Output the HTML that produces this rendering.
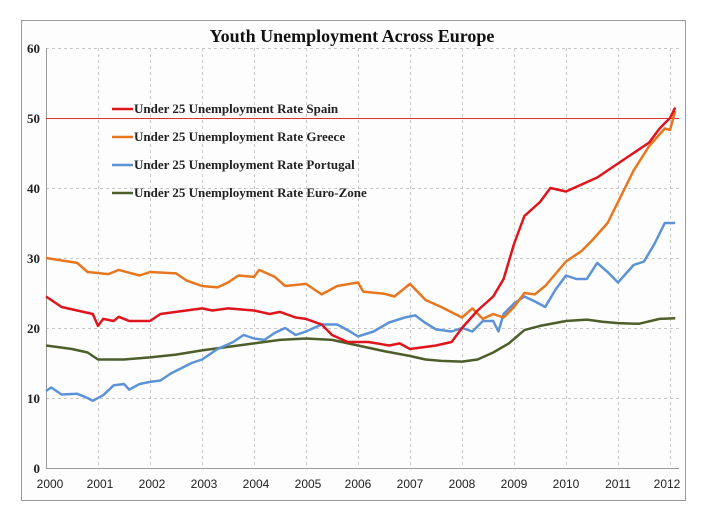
<!DOCTYPE html>
<html><head><style>body{margin:0;background:#fff}</style></head><body>
<svg width="710" height="523" xmlns="http://www.w3.org/2000/svg" font-family="Liberation Serif, serif">
<rect x="21.5" y="20.5" width="664" height="480" fill="#fdfdfd" stroke="#999"/>
<text x="352" y="42" text-anchor="middle" font-size="18" font-weight="bold" fill="#111">Youth Unemployment Across Europe</text>
<g stroke="#c8c8c8" stroke-dasharray="3,3" stroke-width="1">
<line x1="46" x2="679" y1="48.5" y2="48.5"/><line x1="46" x2="679" y1="188.5" y2="188.5"/><line x1="46" x2="679" y1="258.5" y2="258.5"/><line x1="46" x2="679" y1="328.5" y2="328.5"/><line x1="46" x2="679" y1="398.5" y2="398.5"/>
<line y1="48" y2="468" x1="98.5" x2="98.5"/><line y1="48" y2="468" x1="150.5" x2="150.5"/><line y1="48" y2="468" x1="202.5" x2="202.5"/><line y1="48" y2="468" x1="254.5" x2="254.5"/><line y1="48" y2="468" x1="306.5" x2="306.5"/><line y1="48" y2="468" x1="358.5" x2="358.5"/><line y1="48" y2="468" x1="410.5" x2="410.5"/><line y1="48" y2="468" x1="462.5" x2="462.5"/><line y1="48" y2="468" x1="514.5" x2="514.5"/><line y1="48" y2="468" x1="566.5" x2="566.5"/><line y1="48" y2="468" x1="618.5" x2="618.5"/><line y1="48" y2="468" x1="670.5" x2="670.5"/>
</g>
<g stroke="#999"><line x1="46.5" y1="48" x2="46.5" y2="468"/><line x1="46" y1="468.5" x2="679" y2="468.5"/></g>
<line x1="46" x2="679" y1="118.5" y2="118.5" stroke="#e03030" stroke-width="1"/>
<g font-family="Liberation Serif, serif" font-size="13" font-weight="bold" fill="#222" text-anchor="end">
<text x="40" y="53">60</text><text x="40" y="123">50</text><text x="40" y="193">40</text><text x="40" y="263">30</text><text x="40" y="333">20</text><text x="40" y="403">10</text><text x="40" y="473">0</text></g>
<g font-family="Liberation Sans, sans-serif" font-size="12" fill="#222" text-anchor="middle">
<text x="50" y="488">2000</text><text x="100" y="488">2001</text><text x="152" y="488">2002</text><text x="204" y="488">2003</text><text x="256" y="488">2004</text><text x="308" y="488">2005</text><text x="358" y="488">2006</text><text x="410" y="488">2007</text><text x="462" y="488">2008</text><text x="514" y="488">2009</text><text x="566" y="488">2010</text><text x="618" y="488">2011</text><text x="667" y="488">2012</text></g>
<g transform="translate(46,468) scale(52,-7)" fill="none" stroke-width="2.5" stroke-linejoin="round">
<polyline vector-effect="non-scaling-stroke" stroke="#4d5e2a" points="0,17.5 0.5,17 0.8,16.5 1,15.5 1.5,15.5 2,15.8 2.5,16.2 3,16.8 3.5,17.3 4,17.8 4.5,18.3 5,18.5 5.5,18.3 6,17.5 6.5,16.7 7,16 7.3,15.5 7.6,15.3 8,15.2 8.3,15.5 8.6,16.5 8.9,17.8 9.2,19.7 9.5,20.3 10,21 10.4,21.2 10.7,20.9 11,20.7 11.4,20.6 11.8,21.3 12.1,21.4"/>
<polyline vector-effect="non-scaling-stroke" stroke="#5b93d6" points="0,11 0.1,11.5 0.3,10.5 0.6,10.6 0.8,10 0.9,9.6 1.1,10.4 1.3,11.8 1.5,12 1.6,11.2 1.8,12 2,12.3 2.2,12.5 2.4,13.5 2.8,15 3,15.5 3.3,17 3.6,18 3.8,19 4,18.5 4.2,18.3 4.4,19.3 4.6,20 4.8,19 5,19.5 5.3,20.5 5.6,20.5 5.8,19.7 6,18.8 6.3,19.5 6.6,20.8 6.9,21.5 7.1,21.8 7.3,20.7 7.5,19.8 7.8,19.5 8,20 8.2,19.5 8.4,21 8.6,21 8.7,19.5 8.8,22 9,23.5 9.2,24.5 9.4,23.8 9.6,23 9.8,25.5 10,27.5 10.2,27 10.4,27 10.6,29.3 10.8,28 11,26.5 11.3,29 11.5,29.5 11.7,32 11.9,35 12.1,35"/>
<polyline vector-effect="non-scaling-stroke" stroke="#e8761e" points="0,30 0.6,29.3 0.8,28 1.2,27.7 1.4,28.3 1.8,27.5 2,28 2.5,27.8 2.7,26.8 3,26 3.3,25.8 3.5,26.5 3.7,27.5 4,27.3 4.1,28.3 4.4,27.3 4.6,26 5,26.3 5.3,24.8 5.6,26 6,26.5 6.1,25.2 6.5,24.9 6.7,24.5 7,26.3 7.3,24 7.6,23 8,21.5 8.2,22.8 8.4,21.3 8.6,22 8.8,21.5 9,23 9.2,25 9.4,24.8 9.6,26 10,29.5 10.3,31 10.5,32.5 10.8,35 11,38 11.3,42.5 11.6,46 11.9,48.5 12,48.3 12.1,51"/>
<polyline vector-effect="non-scaling-stroke" stroke="#e0141c" points="0,24.5 0.3,23 0.6,22.5 0.9,22 1,20.3 1.1,21.3 1.3,21 1.4,21.6 1.6,21 2,21 2.2,22 2.5,22.3 3,22.8 3.2,22.5 3.5,22.8 4,22.5 4.3,22 4.5,22.3 4.8,21.5 5,21.3 5.3,20.5 5.5,19 5.8,18 6.2,18 6.6,17.5 6.8,17.8 7,17 7.5,17.5 7.8,18 8,20 8.3,22.5 8.6,24.5 8.8,27 9,32 9.2,36 9.5,38 9.7,40 10,39.5 10.3,40.5 10.6,41.5 11,43.5 11.3,45 11.6,46.5 11.8,48.5 12,50 12.1,51.5"/>
</g>
<g stroke-width="2.5"><line x1="112" x2="133" y1="109" y2="109" stroke="#e0141c"/><line x1="112" x2="133" y1="137" y2="137" stroke="#e8761e"/><line x1="112" x2="133" y1="165" y2="165" stroke="#5b93d6"/><line x1="112" x2="133" y1="193" y2="193" stroke="#4d5e2a"/></g>
<g font-size="13" font-weight="bold" fill="#222">
<text x="134" y="113">Under 25 Unemployment Rate Spain</text>
<text x="134" y="141">Under 25 Unemployment Rate Greece</text>
<text x="134" y="169">Under 25 Unemployment Rate Portugal</text>
<text x="134" y="197">Under 25 Unemployment Rate Euro-Zone</text></g>
</svg>
</body></html>
